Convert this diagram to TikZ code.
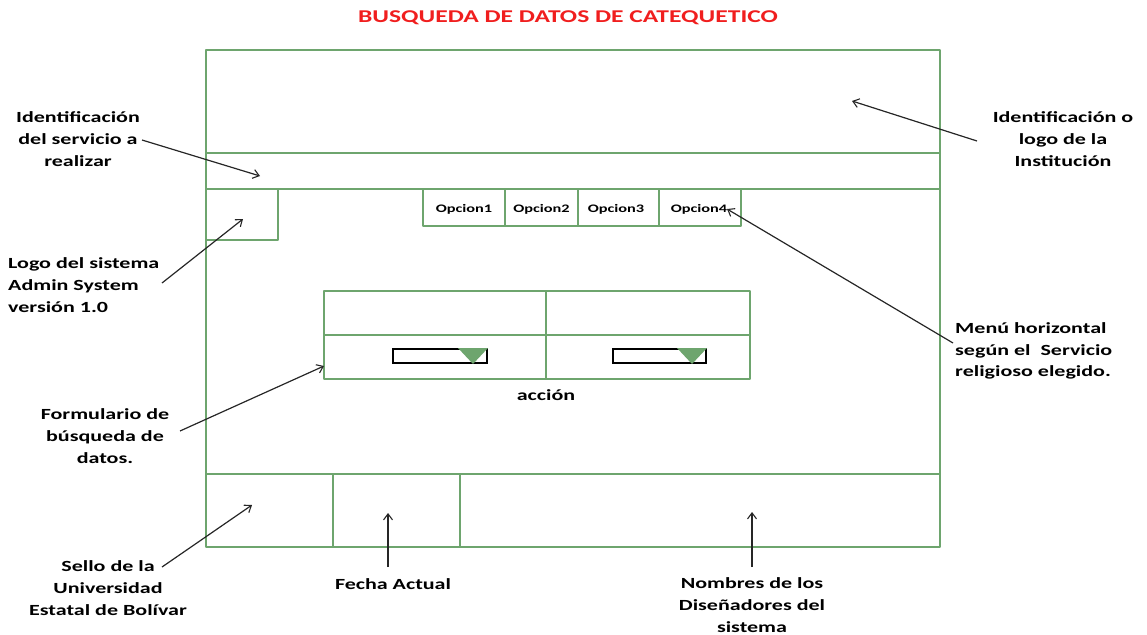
\documentclass[tikz,border=0pt]{standalone}
\usepackage{fontspec}
\setmainfont{Carlito}[FakeStretch=1.42]
\usetikzlibrary{arrows.meta}
\definecolor{frameg}{RGB}{110,165,110}
\definecolor{titlered}{RGB}{240,30,30}
\tikzset{
  frm/.style={draw=frameg, line width=2.6pt, line join=round},
  lbl/.style={font=\fontsize{15.5}{21.8}\selectfont\bfseries, align=center, inner sep=0pt},
  lbll/.style={lbl, align=left},
  opt/.style={font=\fontsize{11.5}{13}\selectfont\bfseries, inner sep=0pt},
  ptr/.style={draw=black!85, line width=1.2pt, -{Straight Barb[length=6pt,width=9pt,line width=1.1pt]}},
  ddbox/.style={draw=black, line width=1.8pt},
  ddtri/.style={fill=frameg, draw=none}
}
\begin{document}
\begin{tikzpicture}[x=1pt,y=-1pt]
\useasboundingbox (0,0) rectangle (1147,634);
% title
\node[font=\fontsize{18}{20}\selectfont\bfseries, text=titlered] (title) at (568,18) {BUSQUEDA DE DATOS DE CATEQUETICO};
% main frame
\draw[frm] (206,50) rectangle (940,547);
\draw[frm] (206,153) -- (940,153);
\draw[frm] (206,189) -- (940,189);
\draw[frm] (206,474) -- (940,474);
\draw[frm] (333,474) -- (333,547);
\draw[frm] (460,474) -- (460,547);
% logo box
\draw[frm] (206,189) rectangle (278,240);
% menu
\draw[frm] (423,189) rectangle (741,226);
\draw[frm] (505,189) -- (505,226);
\draw[frm] (578,189) -- (578,226);
\draw[frm] (659,189) -- (659,226);
\node[opt] (o1) at (464,209) {Opcion1};
\node[opt] (o2) at (541.5,209) {Opcion2};
\node[opt] (o3) at (616,209) {Opcion3};
\node[opt] (o4) at (699,209) {Opcion4};
% form
\draw[frm] (324,291) rectangle (750,379);
\draw[frm] (546,291) -- (546,379);
\draw[frm] (324,335) -- (750,335);
\draw[ddbox] (393,349) rectangle (487,363);
\fill[ddtri] (458,348) -- (488,348) -- (473,364) -- cycle;
\draw[ddbox] (613,349) rectangle (706,363);
\fill[ddtri] (677,348) -- (707,348) -- (692,364) -- cycle;
\node[lbl] (accion) at (546,395) {acción};
% labels
\node[lbl] (lserv) at (78,139) {Identificación\\del servicio a\\realizar};
\node[lbl] (linst) at (1063,139) {Identificación o\\logo de la\\Institución};
\node[lbll, anchor=west] (llogo) at (8,285) {Logo del sistema\\Admin System\\versión 1.0};
\node[lbll, anchor=west] (lmenu) at (955,351) {Menú horizontal\\según el\ \ Servicio\\religioso elegido.};
\node[lbl] (lform) at (105,436) {Formulario de\\búsqueda de\\datos.};
\node[lbl] (lsello) at (108,588) {Sello de la\\Universidad\\Estatal de Bolívar};
\node[lbl] (lfecha) at (393,584) {Fecha Actual};
\node[lbl] (lnomb) at (752,605) {Nombres de los\\Diseñadores del\\sistema};
% coordinates
\coordinate (sServ) at (142,140);
\coordinate (tServ) at (260,176);
\coordinate (sInst) at (977,141);
\coordinate (tInst) at (852,101);
\coordinate (sLogo) at (162,283);
\coordinate (tLogo) at (243,219);
\coordinate (sMenu) at (953,343);
\coordinate (tMenu) at (727,209);
\coordinate (sForm) at (180,431);
\coordinate (tForm) at (324,366);
\coordinate (sSello) at (162,567);
\coordinate (tSello) at (252,505);
\coordinate (sFecha) at (388,567);
\coordinate (tFecha) at (388,513);
\coordinate (sNomb) at (752,567);
\coordinate (tNomb) at (752,512);
% arrows
\draw[ptr] (sServ) -- (tServ);
\draw[ptr] (sInst) -- (tInst);
\draw[ptr] (sLogo) -- (tLogo);
\draw[ptr] (sMenu) -- (tMenu);
\draw[ptr] (sForm) -- (tForm);
\draw[ptr] (sSello) -- (tSello);
\draw[ptr] (sFecha) -- (tFecha);
\draw[ptr] (sNomb) -- (tNomb);
\end{tikzpicture}
\end{document}
